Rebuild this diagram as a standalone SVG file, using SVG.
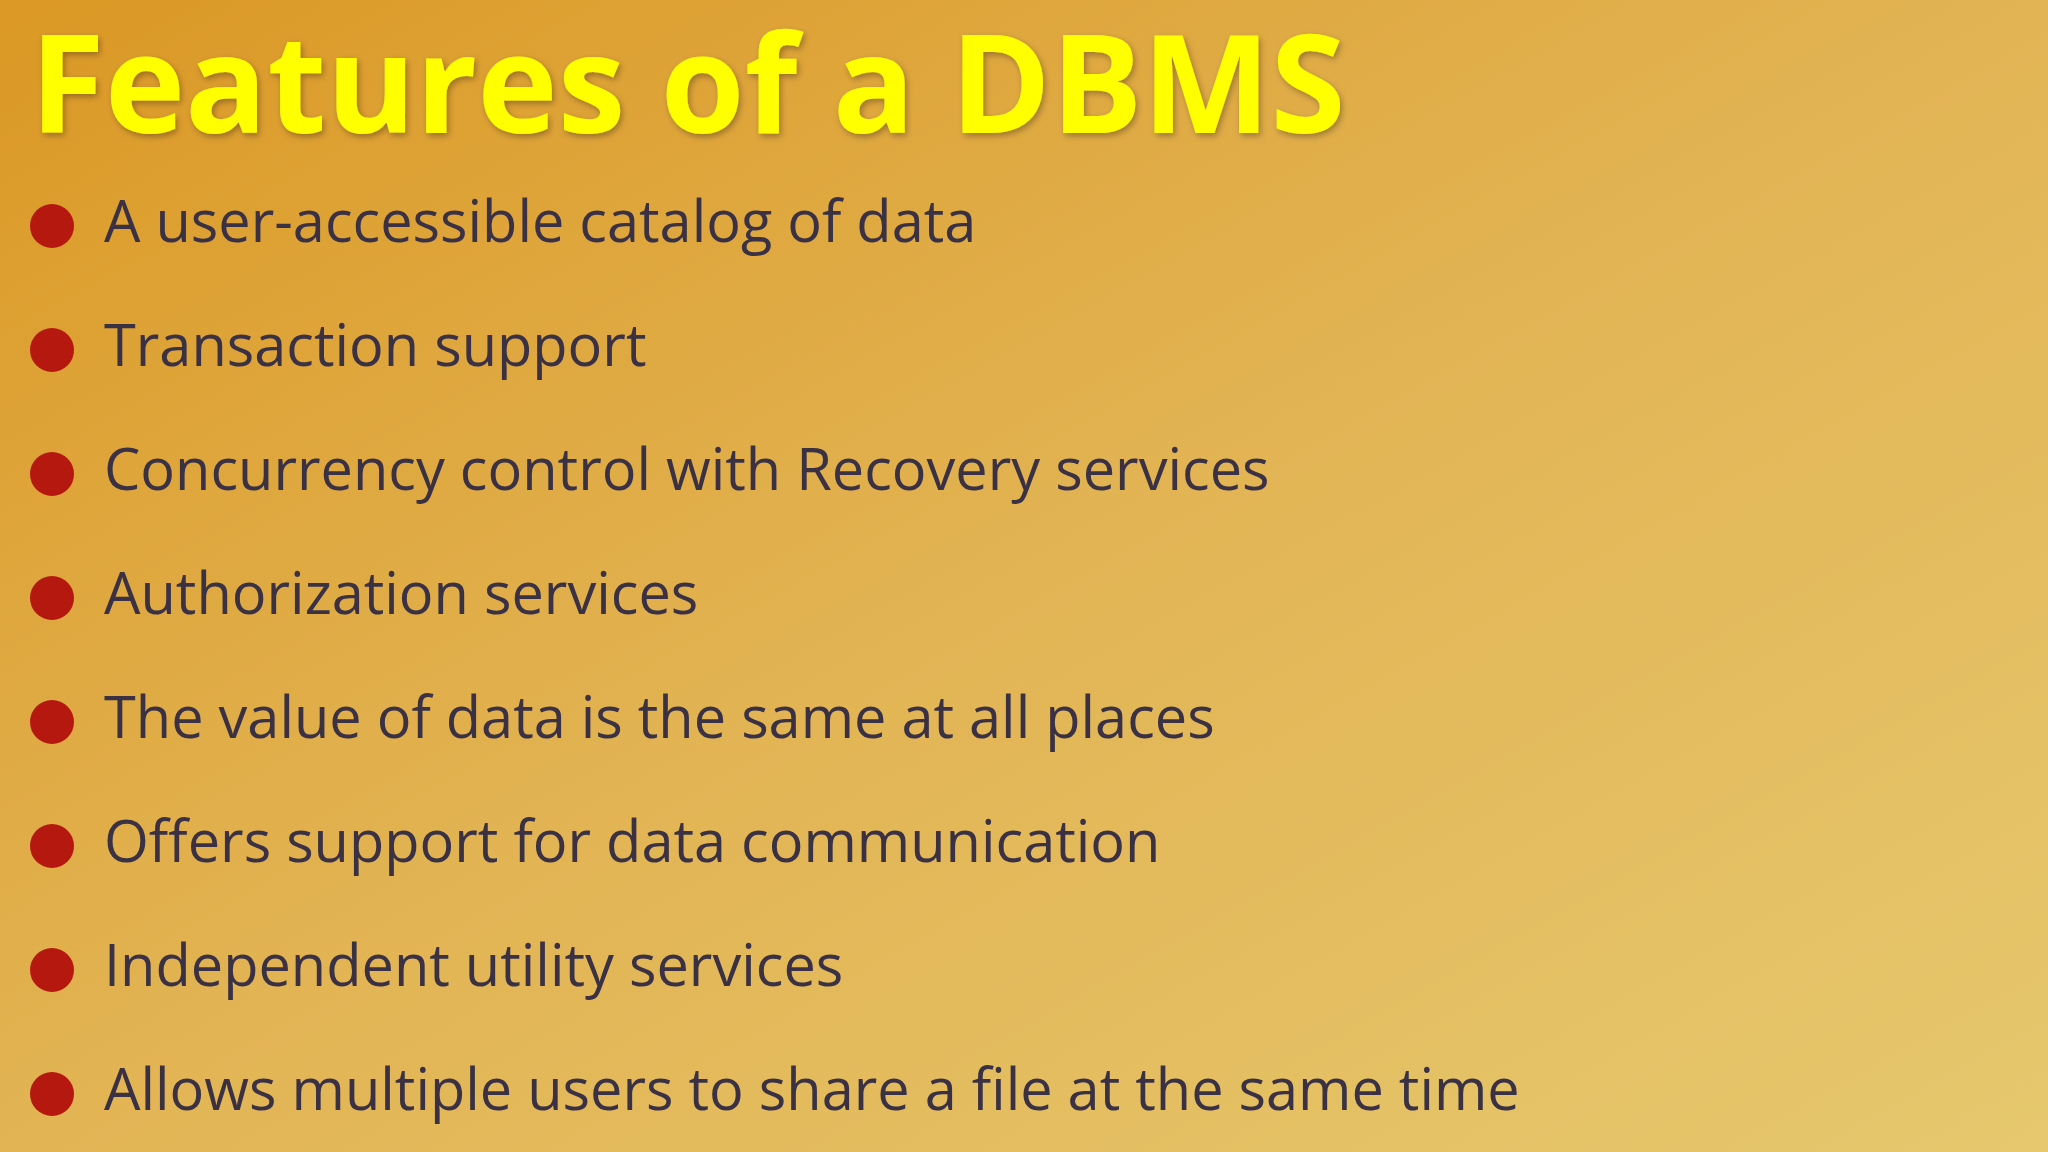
<svg xmlns="http://www.w3.org/2000/svg" width="2048" height="1152" viewBox="0 0 2048 1152">
<defs>
<linearGradient id="bg" x1="0" y1="0" x2="1" y2="1">
<stop offset="0" stop-color="#DB9824"/>
<stop offset="0.5" stop-color="#E2B454"/>
<stop offset="1" stop-color="#E6C86E"/>
</linearGradient>
<filter id="sh" x="-5%" y="-5%" width="110%" height="120%"><feDropShadow dx="2" dy="3" stdDeviation="3" flood-color="#000" flood-opacity="0.3"/></filter>
</defs>
<style>
.t{font-family:"Open Sans","Noto Sans",sans-serif;font-size:57.7px;fill:#3A3244}
.b{fill:#B5180F}
</style>
<rect width="2048" height="1152" fill="url(#bg)"/>
<text x="30" y="133" font-family="'Open Sans','Noto Sans',sans-serif" font-weight="bold" font-size="136" fill="#FFFF00" filter="url(#sh)">Features of a DBMS</text>
<g id="i1"><circle class="b" cx="52" cy="226" r="22"/><text class="t" x="104" y="242">A user-accessible catalog of data</text></g>
<g id="i2"><circle class="b" cx="52" cy="350" r="22"/><text class="t" x="104" y="366">Transaction support</text></g>
<g id="i3"><circle class="b" cx="52" cy="474" r="22"/><text class="t" x="104" y="490">Concurrency control with Recovery services</text></g>
<g id="i4"><circle class="b" cx="52" cy="598" r="22"/><text class="t" x="104" y="614">Authorization services</text></g>
<g id="i5"><circle class="b" cx="52" cy="722" r="22"/><text class="t" x="104" y="738">The value of data is the same at all places</text></g>
<g id="i6"><circle class="b" cx="52" cy="846" r="22"/><text class="t" x="104" y="862">Offers support for data communication</text></g>
<g id="i7"><circle class="b" cx="52" cy="970" r="22"/><text class="t" x="104" y="986">Independent utility services</text></g>
<g id="i8"><circle class="b" cx="52" cy="1094" r="22"/><text class="t" x="104" y="1110">Allows multiple users to share a file at the same time</text></g>
</svg>
